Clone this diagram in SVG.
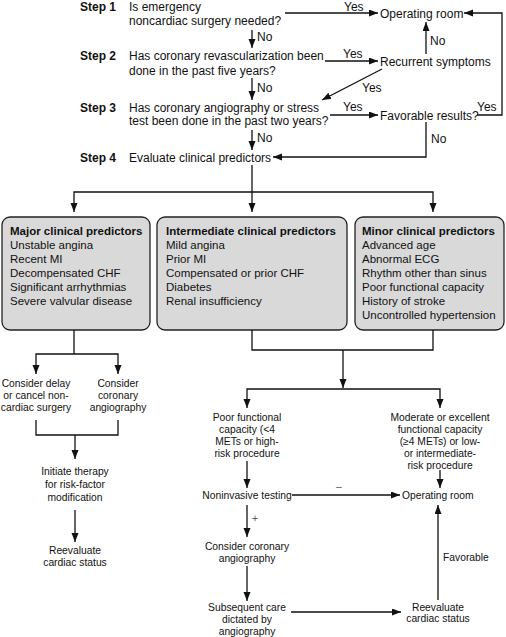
<svg xmlns="http://www.w3.org/2000/svg" width="506" height="637" viewBox="0 0 506 637">
<defs>
<marker id="ah" markerUnits="userSpaceOnUse" markerWidth="10" markerHeight="8" refX="9" refY="3.5" orient="auto">
<path d="M0,0 L9,3.5 L0,7 z" fill="#111"/>
</marker>
<style>
text{font-family:"Liberation Sans",Arial,sans-serif;fill:#111}
.t{font-size:12px}
.s{font-size:12px;font-weight:bold}
.b{font-size:11.5px}
.bh{font-size:11.5px;font-weight:bold}
.m{font-size:10.3px;text-anchor:middle}
.l{font-size:10.3px}
.c path{fill:none;stroke:#111;stroke-width:1.3}
.c path.a{marker-end:url(#ah)}
.box{fill:#d9d9d9;stroke:#222;stroke-width:1.3}
</style>
</defs>
<rect width="506" height="637" fill="#fff"/>

<g id="step1">
<text class="s" x="80" y="11">Step 1</text>
<text class="t" x="129" y="10.5">Is emergency</text>
<text class="t" x="129" y="24.5">noncardiac surgery needed?</text>
</g>
<g id="step2">
<text class="s" x="80" y="60">Step 2</text>
<text class="t" x="129" y="59.5">Has coronary revascularization been</text>
<text class="t" x="129" y="74.5">done in the past five years?</text>
</g>
<g id="step3">
<text class="s" x="80" y="112">Step 3</text>
<text class="t" x="129" y="111.5">Has coronary angiography or stress</text>
<text class="t" x="129" y="125">test been done in the past two years?</text>
</g>
<g id="step4">
<text class="s" x="80" y="162">Step 4</text>
<text class="t" x="129" y="161.5">Evaluate clinical predictors</text>
</g>
<g id="or1"><text class="t" x="380" y="17.5">Operating room</text></g>
<g id="recurrent"><text class="t" x="380" y="65.5">Recurrent symptoms</text></g>
<g id="favorable"><text class="t" x="380" y="119.5">Favorable results?</text></g>

<g id="major">
<rect class="box" x="2" y="217" width="148" height="113" rx="8"/>
<text class="bh" x="10" y="235">Major clinical predictors</text>
<text class="b" x="10" y="249">Unstable angina</text>
<text class="b" x="10" y="263">Recent MI</text>
<text class="b" x="10" y="277">Decompensated CHF</text>
<text class="b" x="10" y="291">Significant arrhythmias</text>
<text class="b" x="10" y="305">Severe valvular disease</text>
</g>
<g id="intermediate">
<rect class="box" x="157" y="217" width="190" height="113" rx="8"/>
<text class="bh" x="166" y="235">Intermediate clinical predictors</text>
<text class="b" x="166" y="249">Mild angina</text>
<text class="b" x="166" y="263">Prior MI</text>
<text class="b" x="166" y="277">Compensated or prior CHF</text>
<text class="b" x="166" y="291">Diabetes</text>
<text class="b" x="166" y="305">Renal insufficiency</text>
</g>
<g id="minor">
<rect class="box" x="355" y="217" width="149" height="113" rx="8"/>
<text class="bh" x="362" y="235">Minor clinical predictors</text>
<text class="b" x="362" y="249">Advanced age</text>
<text class="b" x="362" y="263">Abnormal ECG</text>
<text class="b" x="362" y="277">Rhythm other than sinus</text>
<text class="b" x="362" y="291">Poor functional capacity</text>
<text class="b" x="362" y="305">History of stroke</text>
<text class="b" x="362" y="319">Uncontrolled hypertension</text>
</g>

<g id="delay">
<text class="m" x="36" y="387">Consider delay</text>
<text class="m" x="36" y="399">or cancel non-</text>
<text class="m" x="36" y="411">cardiac surgery</text>
</g>
<g id="consider1">
<text class="m" x="118" y="387">Consider</text>
<text class="m" x="118" y="399">coronary</text>
<text class="m" x="118" y="411">angiography</text>
</g>
<g id="initiate">
<text class="m" x="75" y="475">Initiate therapy</text>
<text class="m" x="75" y="488">for risk-factor</text>
<text class="m" x="75" y="501">modification</text>
</g>
<g id="reeval1">
<text class="m" x="75" y="554">Reevaluate</text>
<text class="m" x="75" y="566">cardiac status</text>
</g>
<g id="poor">
<text class="m" x="247" y="420.5">Poor functional</text>
<text class="m" x="247" y="432.5">capacity (&lt;4</text>
<text class="m" x="247" y="444.5">METs or high-</text>
<text class="m" x="247" y="456.5">risk procedure</text>
</g>
<g id="moderate">
<text class="m" x="440" y="420.5">Moderate or excellent</text>
<text class="m" x="440" y="432.5">functional capacity</text>
<text class="m" x="440" y="444.5">(≥4 METs) or low-</text>
<text class="m" x="440" y="456.5">or intermediate-</text>
<text class="m" x="440" y="468.5">risk procedure</text>
</g>
<g id="noninvasive"><text class="m" x="247" y="498.5">Noninvasive testing</text></g>
<g id="or2"><text class="l" x="402" y="498.5">Operating room</text></g>
<g id="consider2">
<text class="m" x="247" y="549.5">Consider coronary</text>
<text class="m" x="247" y="561.5">angiography</text>
</g>
<g id="subsequent">
<text class="m" x="247" y="610.5">Subsequent care</text>
<text class="m" x="247" y="622.5">dictated by</text>
<text class="m" x="247" y="635">angiography</text>
</g>
<g id="reeval2">
<text class="m" x="438" y="610.5">Reevaluate</text>
<text class="m" x="438" y="622">cardiac status</text>
</g>

<g id="connectors" class="c">
<path class="a" d="M285,13 H378"/>
<path class="a" d="M252,30 V48"/>
<path class="a" d="M325,61 H378"/>
<path class="a" d="M426,54 V22"/>
<path class="a" d="M382,69 L322,100"/>
<path class="a" d="M252,78 V100"/>
<path class="a" d="M330,115 H378"/>
<path class="a" d="M477,115 H502 V13 H464"/>
<path class="a" d="M426,122 V157 H273"/>
<path class="a" d="M252,130 V150"/>
<path class="a" d="M252,165 V212"/>
<path class="a" d="M252,192 H74 V212"/>
<path class="a" d="M252,192 H433 V212"/>
<path d="M74,330 V354"/>
<path class="a" d="M74,354 H36 V374"/>
<path class="a" d="M74,354 H118 V374"/>
<path d="M36,420 V435 H118 V420"/>
<path class="a" d="M75,435 V459"/>
<path class="a" d="M75,510 V542"/>
<path d="M252,330 V350 H433 V330"/>
<path class="a" d="M343,350 V388"/>
<path class="a" d="M343,389 H247 V408"/>
<path class="a" d="M343,389 H440 V408"/>
<path class="a" d="M247,461 V488"/>
<path class="a" d="M440,470 V488"/>
<path class="a" d="M292,495 H400"/>
<path class="a" d="M247,505 V537"/>
<path class="a" d="M247,566 V601"/>
<path class="a" d="M291,612 H401"/>
<path class="a" d="M438,600 V505"/>
<text class="t" x="344" y="10.5">Yes</text>
<text class="t" x="257" y="40.5">No</text>
<text class="t" x="343" y="58">Yes</text>
<text class="t" x="430" y="44.5">No</text>
<text class="t" x="362" y="92">Yes</text>
<text class="t" x="257" y="91.5">No</text>
<text class="t" x="343" y="111">Yes</text>
<text class="t" x="477" y="111">Yes</text>
<text class="t" x="431" y="143">No</text>
<text class="t" x="257" y="141.5">No</text>
<text class="l" x="336" y="490" style="fill:#555">–</text>
<text class="l" x="252" y="521.5" style="fill:#555">+</text>
<text class="l" x="443" y="560.5">Favorable</text>
</g>
</svg>
